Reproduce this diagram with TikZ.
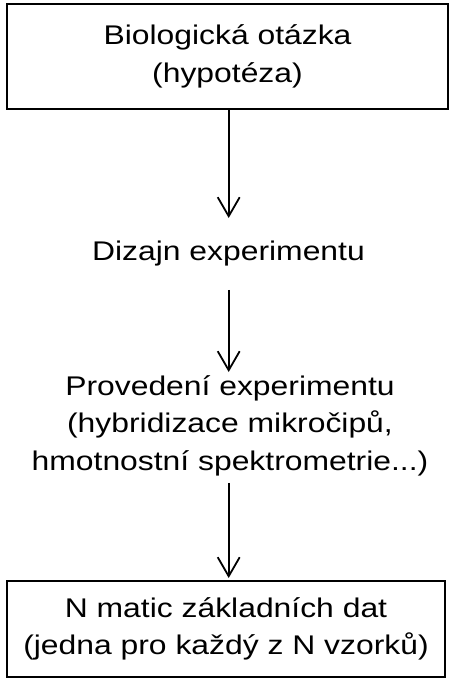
\documentclass[tikz,border=0pt]{standalone}
\usepackage{fontspec}
\setmainfont{Liberation Sans}[FakeStretch=1.18]
\usetikzlibrary{arrows.meta,positioning}

\begin{document}
\begin{tikzpicture}[x=1pt, y=-1pt,
  stepbox/.style={draw, line width=1.8pt, inner sep=0pt, align=center,
    font=\fontsize{27}{37.5}\selectfont},
  txt/.style={inner sep=0pt, align=center, font=\fontsize{27}{37.5}\selectfont},
  arr/.style={-{Straight Barb[length=19pt, width=22pt, line width=1.8pt]}, line width=1.8pt}
]
  \useasboundingbox (0,0) rectangle (449,678);
  % ---------------- nodes ----------------
  \node[stepbox, minimum width=441pt, minimum height=105pt] (quest) at (227.5,56.5)
    {Biologická otázka\\(hypotéza)};
  \node[txt, anchor=base] (design) at (228.5,260) {Dizajn experimentu};
  \node[txt, anchor=base] (run) at (230,470)
    {Provedení experimentu\\(hybridizace mikročipů,\\hmotnostní spektrometrie...)};
  \node[stepbox, minimum width=438pt, minimum height=96pt] (data) at (226,629)
    {N matic základních dat\\(jedna pro každý z N vzorků)};
  % arrow tips
  \coordinate (tip1) at (228.7,218);
  \coordinate (tip2) at (228.7,372);
  \coordinate (tip3) at (228.7,578);
  % ---------------- edges ----------------
  \draw[arr] (quest.south -| tip1) -- (tip1);
  \draw[arr, shorten <=24pt] (design.south -| tip2) -- (tip2);
  \draw[arr, shorten <=7pt] (run.south -| tip3) -- (tip3);
\end{tikzpicture}
\end{document}
